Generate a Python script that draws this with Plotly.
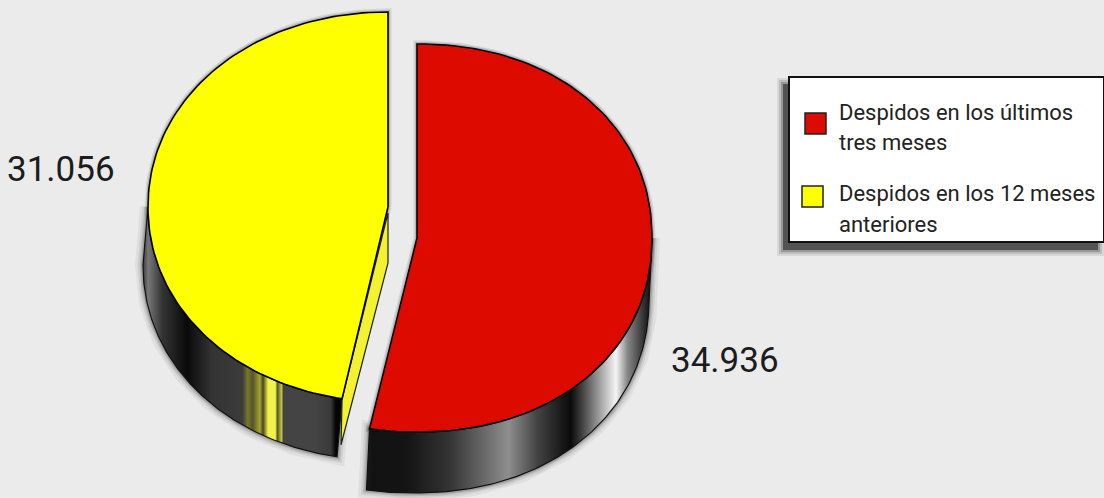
import math
import plotly.graph_objects as go

# ---- data ----
categories = ["Despidos en los últimos tres meses", "Despidos en los 12 meses anteriores"]
legend_lines = [["Despidos en los últimos", "tres meses"], ["Despidos en los 12 meses", "anteriores"]]
values = [34936, 31056]
colors = ["#dd0a00", "#ffff00"]

# ---- style / geometry of the picture (pixel-based axes) ----
W, H = 1104, 498
BG = "#ebebeb"
CENTERS = [(417, 238), (388, 207)]
RADII = [(235, 194), (240, 195)]
SQUARENESS = [2.12, 2.05]
DEPTH = [(-3, 61), (-5, 58)]
LABEL_POS = [(725, 360), (61, 169)]
LABEL_FONT = "Roboto"
total = sum(values)
sweep = [v / total * 360 for v in values]


def pt(i, deg, off=(0, 0)):
    a = math.radians(deg)
    cx, cy = CENTERS[i]
    rx, ry = RADII[i]
    e = 2 / SQUARENESS[i]
    s, c = math.sin(a), math.cos(a)
    return (cx + rx * math.copysign(abs(s) ** e, s) + off[0],
            cy - ry * math.copysign(abs(c) ** e, c) + off[1])


def arc(i, d0, d1, off=(0, 0), n=120):
    pts = [pt(i, d0 + (d1 - d0) * k / n, off) for k in range(n + 1)]
    return [p[0] for p in pts], [p[1] for p in pts]


def wedge(i, d0, d1):
    xs, ys = arc(i, d0, d1)
    cx, cy = CENTERS[i]
    return [cx] + xs + [cx], [cy] + ys + [cy]


def side(i, d0, d1):
    x1, y1 = arc(i, d0, d1)
    x2, y2 = arc(i, d1, d0, DEPTH[i])
    return x1 + x2 + [x1[0]], y1 + y2 + [y1[0]]


red_range = (0, sweep[0])
yel_range = (sweep[0], 360)
red_side_rng = (90, sweep[0])
yel_side_rng = (sweep[0], 270)

fig = go.Figure()


def add_poly(x, y, fill=None, line="#000000", lw=1.2, gradient=None):
    kw = dict(x=x, y=y, mode="lines", hoverinfo="skip", showlegend=False,
              line=dict(color=line, width=lw))
    if gradient:
        kw.update(fill="toself", fillgradient=gradient)
    elif fill:
        kw.update(fill="toself", fillcolor=fill)
    fig.add_trace(go.Scatter(**kw))


# soft halos behind the pie
for w, alpha in [(16, .05), (11, .07), (7, .10), (4, .14)]:
    c = f"rgba(0,0,0,{alpha})"
    for i, (a, b), (s0, s1) in [(1, yel_range, yel_side_rng), (0, red_range, red_side_rng)]:
        x, y = side(i, s0, s1)
        add_poly(x, y, line=c, lw=w)
        if w <= 7:
            x, y = wedge(i, a, b)
            add_poly(x, y, line=c, lw=w)

# yellow slice: outer wall
ygrad = dict(type="horizontal", start=140, stop=345, colorscale=[
    [0.00, "#1a1a1a"], [0.04, "#777777"], [0.11, "#333333"], [0.23, "#0a0a0a"], [0.35, "#333333"],
    [0.50, "#3c3c3c"], [0.525, "#77772a"], [0.55, "#55552a"], [0.585, "#a5a532"], [0.60, "#444422"],
    [0.625, "#f2f24a"], [0.66, "#f2f24a"], [0.67, "#555530"], [0.69, "#c5c53c"], [0.70, "#444444"],
    [0.85, "#444444"], [0.93, "#3a3a3a"], [0.955, "#050505"], [1.00, "#050505"]])
x, y = side(1, *yel_side_rng)
add_poly(x, y, gradient=ygrad, line="#111111")

# yellow slice: cut face, following the slice's end edge
ex, ey = pt(1, sweep[0])
cx, cy = CENTERS[1]
add_poly([cx, cx, ex - 1, ex, cx], [cy + 6, cy + 56, ey + 46, ey, cy + 6], fill="#f2f230", line="#222222")

# yellow slice: top
x, y = wedge(1, *yel_range)
add_poly(x, y, fill=colors[1], lw=1.6)

# red slice: outer wall
rgrad = dict(type="horizontal", start=367, stop=650, colorscale=[
    [0.00, "#1a1a1a"], [0.02, "#121212"], [0.14, "#141414"], [0.29, "#333333"], [0.50, "#8e8e8e"],
    [0.60, "#444444"], [0.72, "#0a0a0a"], [0.75, "#333333"], [0.88, "#f5f5f5"], [0.92, "#888888"],
    [1.00, "#111111"]])
x, y = side(0, *red_side_rng)
add_poly(x, y, gradient=rgrad, line="#111111")

# red slice: top
x, y = wedge(0, *red_range)
add_poly(x, y, fill=colors[0], lw=1.6)

# value labels
for v, (lx, ly) in zip(values, LABEL_POS):
    fig.add_annotation(x=lx, y=ly, text=f"{v:,}".replace(",", "."), showarrow=False,
                       font=dict(family=LABEL_FONT, size=35, color="#1c1c1c"),
                       xanchor="center", yanchor="middle")

# legend box
shapes = []
for grow, alpha in [(6, .08), (4, .12), (2, .2), (0, .45)]:
    shapes.append(dict(type="rect", x0=783 - grow, x1=1098 + grow, y0=84 - grow, y1=250 + grow,
                       fillcolor=f"rgba(0,0,0,{alpha})", line_width=0, layer="below"))
shapes.append(dict(type="rect", x0=789, x1=1104, y0=77, y1=242, fillcolor="#ffffff",
                   line=dict(color="#111111", width=2)))
for c, (sx, sy) in zip(colors, [(805, 113), (802, 186)]):
    shapes.append(dict(type="rect", x0=sx, x1=sx + 21, y0=sy, y1=sy + 21, fillcolor=c,
                       line=dict(color="#222222", width=1.5)))
fig.update_layout(shapes=shapes)

for lines, ys in zip(legend_lines, [(112, 142), (193, 224)]):
    for t, ly in zip(lines, ys):
        fig.add_annotation(x=837, y=ly, text=t, showarrow=False, xanchor="left", yanchor="middle",
                           font=dict(family=LABEL_FONT, size=22, color="#222222"))

fig.update_layout(
    width=W, height=H, margin=dict(l=0, r=0, t=0, b=0), showlegend=False,
    paper_bgcolor=BG, plot_bgcolor=BG,
    xaxis=dict(range=[0, W], visible=False, fixedrange=True),
    yaxis=dict(range=[H, 0], visible=False, fixedrange=True),
)
fig.write_html("out.html", post_script="document.body.style.margin='0';document.body.style.overflow='hidden';",
               config={"displayModeBar": False})
